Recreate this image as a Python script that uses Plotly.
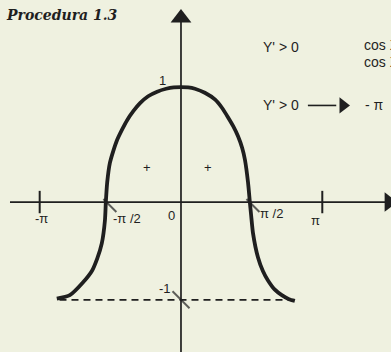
import plotly.graph_objects as go

# кривая (в единицах осей)
curve_x = [-2.76, -2.47, -2.18, -1.98, -1.86, -1.76, -1.69, -1.67, -1.64, -1.58, -1.50,
           -1.42, -1.31, -1.20, -1.06, -0.91, -0.73, -0.53, -0.33, -0.16, 0.0, 0.16,
           0.31, 0.53, 0.76, 0.91, 1.04, 1.16, 1.27, 1.36, 1.42, 1.49, 1.53, 1.56,
           1.60, 1.71, 1.82, 1.93, 2.08, 2.24, 2.40, 2.53]
curve_y = [-0.84, -0.81, -0.70, -0.60, -0.49, -0.36, -0.16, 0.0, 0.17, 0.34, 0.45,
           0.54, 0.63, 0.71, 0.79, 0.86, 0.92, 0.96, 0.985, 0.997, 1.0, 0.997,
           0.985, 0.95, 0.89, 0.82, 0.74, 0.66, 0.57, 0.47, 0.37, 0.17, 0.0, -0.12,
           -0.27, -0.48, -0.60, -0.68, -0.76, -0.81, -0.845, -0.86]

# пунктир на уровне -1
dash_x = [-2.70, 2.40]
dash_y = [-0.85, -0.85]

# оси
x_axis_x = [-3.80, 4.62]
y_axis_y = [-1.31, 1.60]

# засечки
vtick_x = [-3.14, 3.14]
slash_x = [-1.58, 1.60, 0.0]
slash_y = [-0.03, -0.03, -0.85]
slash_size = [13, 13, 17]

# подписи
labels = ["1", "+", "+", "-π", "-π /2", "0", "π /2", "π", "-1"]
labels_x = [-0.40, -0.76, 0.60, -3.11, -1.20, -0.20, 2.02, 3.00, -0.36]
labels_y = [1.06, 0.30, 0.30, -0.14, -0.14, -0.12, -0.10, -0.16, -0.75]

# правый блок текста
note_y1 = 1.35
note_y2 = 0.84
note_x = 2.22
cos_x = 4.02
cos_lines = ["cos X", "cos X"]
cos_y = [1.37, 1.22]
arrow_x = [2.82, 3.45]

INK = "#1f1f1f"
PAPER = "#eff1e0"
FONT = "Liberation Sans"

fig = go.Figure()

# оси
fig.add_trace(go.Scatter(x=x_axis_x, y=[0, 0], mode="lines",
                         line=dict(color=INK, width=1.7), showlegend=False))
fig.add_trace(go.Scatter(x=[0, 0], y=y_axis_y, mode="lines",
                         line=dict(color=INK, width=1.7), showlegend=False))
fig.add_trace(go.Scatter(x=[0], y=[y_axis_y[1]], mode="markers",
                         marker=dict(symbol="triangle-up", size=18, color=INK),
                         showlegend=False, cliponaxis=False))
fig.add_trace(go.Scatter(x=[x_axis_x[1]], y=[0], mode="markers",
                         marker=dict(symbol="triangle-right", size=17, color=INK),
                         showlegend=False, cliponaxis=False))

# засечки
fig.add_trace(go.Scatter(x=vtick_x, y=[0, 0], mode="markers",
                         marker=dict(symbol="line-ns", size=16, line=dict(color=INK, width=2)),
                         showlegend=False))
fig.add_trace(go.Scatter(x=slash_x, y=slash_y, mode="markers",
                         marker=dict(symbol="line-nw", size=slash_size, line=dict(color=INK, width=2)),
                         showlegend=False))

# пунктир
fig.add_trace(go.Scatter(x=dash_x, y=dash_y, mode="lines",
                         line=dict(color=INK, width=1.8, dash="7px,5px"), showlegend=False))

# кривая
fig.add_trace(go.Scatter(x=curve_x, y=curve_y, mode="lines",
                         line=dict(color=INK, width=3.8, shape="spline", smoothing=0.6),
                         showlegend=False))

# стрелка Y' > 0 -> -π
fig.add_trace(go.Scatter(x=arrow_x, y=[note_y2, note_y2], mode="lines",
                         line=dict(color=INK, width=1.6), showlegend=False))
fig.add_trace(go.Scatter(x=[arrow_x[1] + 0.15], y=[note_y2], mode="markers",
                         marker=dict(symbol="triangle-right", size=14, color=INK),
                         showlegend=False))

for t, x, y in zip(labels, labels_x, labels_y):
    fig.add_annotation(x=x, y=y, text=t, showarrow=False,
                       font=dict(family=FONT, size=13, color=INK))

fig.add_annotation(x=note_x, y=note_y1, text="Y' > 0", showarrow=False,
                   font=dict(family=FONT, size=14, color=INK))
fig.add_annotation(x=note_x, y=note_y2, text="Y' > 0", showarrow=False,
                   font=dict(family=FONT, size=14, color=INK))
fig.add_annotation(x=arrow_x[1] + 0.6, y=note_y2, text="- π", showarrow=False,
                   xanchor="left", font=dict(family=FONT, size=14, color=INK))
for t, y in zip(cos_lines, cos_y):
    fig.add_annotation(x=cos_x, y=y, text=t, showarrow=False, xanchor="left",
                       font=dict(family=FONT, size=14, color=INK))

fig.add_annotation(xref="paper", yref="paper", x=0.01, y=1 - 15 / 352,
                   text="<b><i>Procedura 1.3</i></b>", showarrow=False,
                   xanchor="left", yanchor="middle",
                   font=dict(family="DejaVu Serif", size=14, color=INK))

fig.update_layout(
    width=391, height=352,
    margin=dict(l=0, r=0, t=0, b=0),
    paper_bgcolor=PAPER, plot_bgcolor=PAPER,
    hovermode=False,
    xaxis=dict(range=[-4.022, 4.667], visible=False, fixedrange=True),
    yaxis=dict(range=[-1.304, 1.757], visible=False, fixedrange=True),
)

# у страницы по умолчанию отступ 8px — убираем
fig.write_html("out.html", config={"displayModeBar": False},
               post_script="document.body.style.margin='0';")
